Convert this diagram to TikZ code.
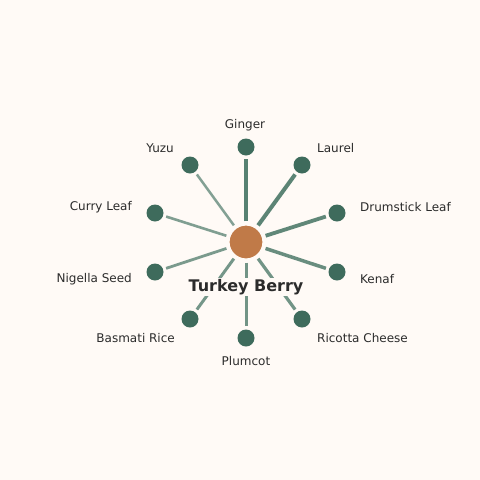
\documentclass[tikz,border=0pt]{standalone}
\usepackage{fontspec}
\setmainfont{DejaVu Sans}
\begin{document}
\begin{tikzpicture}[x=1pt,y=-1pt,
  leaf/.style={circle,fill=dotc,inner sep=0pt,minimum size=17pt},
  hub/.style={circle,fill=hubc,draw=bgc,line width=1.2pt,inner sep=0pt,minimum size=34pt},
  lab/.style={font=\fontsize{12}{14}\selectfont,text=txtc,inner sep=1pt},
  spoke/.style={draw=linec,shorten <=3pt,shorten >=3pt}]
\definecolor{bgc}{HTML}{FFFAF6}
\definecolor{dotc}{HTML}{3E6B5C}
\definecolor{hubc}{HTML}{C07A48}
\definecolor{linec}{HTML}{4F7B6B}
\definecolor{txtc}{HTML}{2B2B2B}
\fill[bgc] (0,0) rectangle (480,480);
\useasboundingbox (0,0) rectangle (480,480);
\node[hub] (c) at (246,242) {};
\node[leaf] (g) at (246,147) {};
\node[leaf] (l) at (302,165) {};
\node[leaf] (d) at (337,213) {};
\node[leaf] (k) at (337,272) {};
\node[leaf] (r) at (302,319) {};
\node[leaf] (p) at (246,338) {};
\node[leaf] (b) at (190,319) {};
\node[leaf] (n) at (155,272) {};
\node[leaf] (cl) at (155,213) {};
\node[leaf] (y) at (190,165) {};
\path[spoke,line width=4.2pt,draw opacity=0.95] (c) -- (g);
\path[spoke,line width=4pt,draw opacity=0.92] (c) -- (l);
\path[spoke,line width=3.8pt,draw opacity=0.9] (c) -- (d);
\path[spoke,line width=3.5pt,draw opacity=0.85] (c) -- (k);
\path[spoke,line width=3.2pt,draw opacity=0.8] (c) -- (r);
\path[spoke,line width=3pt,draw opacity=0.8] (c) -- (p);
\path[spoke,line width=3pt,draw opacity=0.78] (c) -- (b);
\path[spoke,line width=2.8pt,draw opacity=0.75] (c) -- (n);
\path[spoke,line width=2.6pt,draw opacity=0.72] (c) -- (cl);
\path[spoke,line width=2.5pt,draw opacity=0.7] (c) -- (y);
\node[font=\bfseries\fontsize{16}{18}\selectfont,text=txtc,fill=bgc,inner sep=1.5pt] (t) at (246,287) {Turkey Berry};
\node[lab] (tg) at (245,125) {Ginger};
\node[lab,anchor=west] (tl) at (316,148) {Laurel};
\node[lab,anchor=west] (td) at (359,207) {Drumstick Leaf};
\node[lab,anchor=west] (tk) at (359,279) {Kenaf};
\node[lab,anchor=west] (tr) at (316,338) {Ricotta Cheese};
\node[lab] (tp) at (246,361) {Plumcot};
\node[lab,anchor=east] (tb) at (176,338) {Basmati Rice};
\node[lab,anchor=east] (tn) at (133,279) {Nigella Seed};
\node[lab,anchor=east] (tc) at (133,207) {Curry Leaf};
\node[lab,anchor=east] (ty) at (175,148) {Yuzu};
\end{tikzpicture}
\end{document}
